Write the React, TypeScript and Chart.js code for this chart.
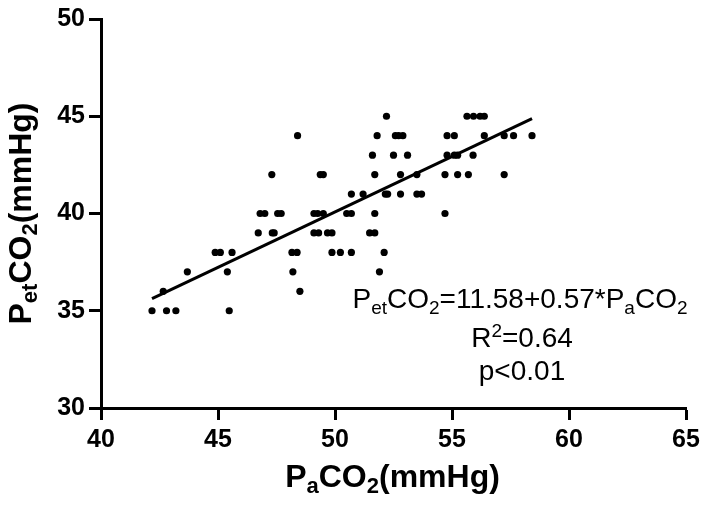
import React, { useEffect, useRef } from "react";
import { Chart, registerables } from "chart.js";

Chart.register(...registerables);

// PaCO2 (x) and PetCO2 (y) for each measured pair
const paCO2 = [
  42.18, 42.8, 43.2, 45.48,
  42.66, 48.5,
  43.69, 45.4, 48.2, 51.9,
  44.88, 45.1, 45.6, 48.16, 48.38, 49.87, 50.23, 50.7, 52.1,
  46.72, 47.32, 47.4, 49.1, 49.3, 49.68, 49.87, 51.48, 51.7,
  46.8, 47.0, 47.55, 47.7, 49.1, 49.26, 49.5, 50.5, 50.7, 51.7, 54.7,
  50.7, 51.2, 52.15, 52.25, 52.8, 53.5, 53.7,
  47.3, 49.37, 49.5, 51.7, 52.8, 53.5, 54.7, 55.24, 55.7, 57.23,
  51.6, 52.5, 53.1, 54.79, 55.1, 55.24, 55.9,
  48.4, 51.8, 52.58, 52.72, 52.9, 54.79, 55.1, 56.38, 57.23, 57.63, 58.42,
  52.2, 55.64, 55.92, 56.2, 56.38,
];
const petCO2 = [
  35, 35, 35, 35,
  36, 36,
  37, 37, 37, 37,
  38, 38, 38, 38, 38, 38, 38, 38, 38,
  39, 39, 39, 39, 39, 39, 39, 39, 39,
  40, 40, 40, 40, 40, 40, 40, 40, 40, 40, 40,
  41, 41, 41, 41, 41, 41, 41,
  42, 42, 42, 42, 42, 42, 42, 42, 42, 42,
  43, 43, 43, 43, 43, 43, 43,
  44, 44, 44, 44, 44, 44, 44, 44, 44, 44, 44,
  45, 45, 45, 45, 45,
];

// Regression line end points (PetCO2 = 11.58 + 0.57*PaCO2)
const fitX = [42.18, 58.42];
const fitY = [35.62, 44.88];

const xTicks = [40, 45, 50, 55, 60, 65];
const yTicks = [30, 35, 40, 45, 50];

const FONT = '"Liberation Sans", Arial, Helvetica, sans-serif';

type Seg = { t: string; k?: "sub" | "sup" };

function drawRich(
  ctx: CanvasRenderingContext2D,
  segs: Seg[],
  cx: number,
  baseY: number,
  size: number,
  subSize: number,
  bold: boolean,
  subDrop: number,
  supRise: number
) {
  const w = bold ? "bold " : "";
  let total = 0;
  for (const s of segs) {
    ctx.font = `${w}${s.k ? subSize : size}px ${FONT}`;
    total += ctx.measureText(s.t).width;
  }
  let x = cx - total / 2;
  ctx.textBaseline = "alphabetic";
  ctx.textAlign = "left";
  for (const s of segs) {
    ctx.font = `${w}${s.k ? subSize : size}px ${FONT}`;
    const dy = s.k === "sub" ? subDrop : s.k === "sup" ? -supRise : 0;
    ctx.fillText(s.t, x, baseY + dy);
    x += ctx.measureText(s.t).width;
  }
}

const textPlugin = {
  id: "richText",
  afterDraw(chart: any) {
    const ctx = chart.ctx as CanvasRenderingContext2D;
    const a = chart.chartArea;
    ctx.save();
    ctx.fillStyle = "#000";
    // x-axis title
    drawRich(
      ctx,
      [{ t: "P" }, { t: "a", k: "sub" }, { t: "CO" }, { t: "2", k: "sub" }, { t: "(mmHg)" }],
      (a.left + a.right) / 2 - 1,
      a.bottom + 79,
      32,
      22,
      true,
      6,
      0
    );
    // y-axis title (rotated)
    ctx.save();
    ctx.translate(31, (a.top + a.bottom) / 2);
    ctx.rotate(-Math.PI / 2);
    drawRich(
      ctx,
      [{ t: "P" }, { t: "et", k: "sub" }, { t: "CO" }, { t: "2", k: "sub" }, { t: "(mmHg)" }],
      0,
      0,
      32,
      22,
      true,
      6,
      0
    );
    ctx.restore();
    // annotation
    const cx = 520;
    drawRich(
      ctx,
      [
        { t: "P" },
        { t: "et", k: "sub" },
        { t: "CO" },
        { t: "2", k: "sub" },
        { t: "=11.58+0.57*P" },
        { t: "a", k: "sub" },
        { t: "CO" },
        { t: "2", k: "sub" },
      ],
      cx,
      308,
      28,
      19,
      false,
      6,
      0
    );
    drawRich(
      ctx,
      [{ t: "R" }, { t: "2", k: "sup" }, { t: "=0.64" }],
      cx + 2,
      347,
      28,
      19,
      false,
      0,
      10
    );
    drawRich(ctx, [{ t: "p<0.01" }], cx + 2, 380, 28, 19, false, 0, 0);
    ctx.restore();
  },
};

export default function App() {
  const ref = useRef<HTMLCanvasElement | null>(null);

  useEffect(() => {
    if (!ref.current) return;
    const points = paCO2.map((x, i) => ({ x, y: petCO2[i] }));
    const line = fitX.map((x, i) => ({ x, y: fitY[i] }));
    const tickFont = { family: FONT, size: 25, weight: "bold" as const };
    const chart = new Chart(ref.current, {
      type: "scatter",
      data: {
        datasets: [
          {
            data: points,
            backgroundColor: "#000",
            borderWidth: 0,
            pointRadius: 3.6,
            pointHoverRadius: 3.6,
          },
          {
            data: line,
            showLine: true,
            borderColor: "#000",
            borderWidth: 3,
            pointRadius: 0,
            backgroundColor: "#000",
          } as any,
        ],
      },
      options: {
        animation: false,
        responsive: false,
        events: [],
        layout: { padding: { left: 0, top: 16, right: 21, bottom: 0 } },
        plugins: { legend: { display: false }, tooltip: { enabled: false } },
        scales: {
          x: {
            type: "linear",
            min: 40,
            max: 65,
            afterBuildTicks: (s: any) => {
              s.ticks = xTicks.map((v) => ({ value: v }));
            },
            afterFit: (s: any) => {
              s.height = 97;
            },
            ticks: { font: tickFont, color: "#000", padding: 5 },
            grid: {
              drawOnChartArea: false,
              drawTicks: true,
              tickLength: 12,
              tickWidth: 3,
              tickColor: "#000",
            },
            border: { display: true, color: "#000", width: 3 },
          },
          y: {
            type: "linear",
            min: 30,
            max: 50,
            afterBuildTicks: (s: any) => {
              s.ticks = yTicks.map((v) => ({ value: v }));
            },
            afterFit: (s: any) => {
              s.width = 101;
            },
            ticks: { font: tickFont, color: "#000", padding: 4 },
            grid: {
              drawOnChartArea: false,
              drawTicks: true,
              tickLength: 12,
              tickWidth: 3,
              tickColor: "#000",
            },
            border: { display: true, color: "#000", width: 3 },
          },
        },
      },
      plugins: [textPlugin],
    });
    return () => chart.destroy();
  }, []);

  return (
    <div style={{ position: "absolute", left: 0, top: 0, width: 707, height: 505, background: "#fff" }}>
      <canvas ref={ref} width={707} height={505} style={{ width: 707, height: 505 }} />
    </div>
  );
}
